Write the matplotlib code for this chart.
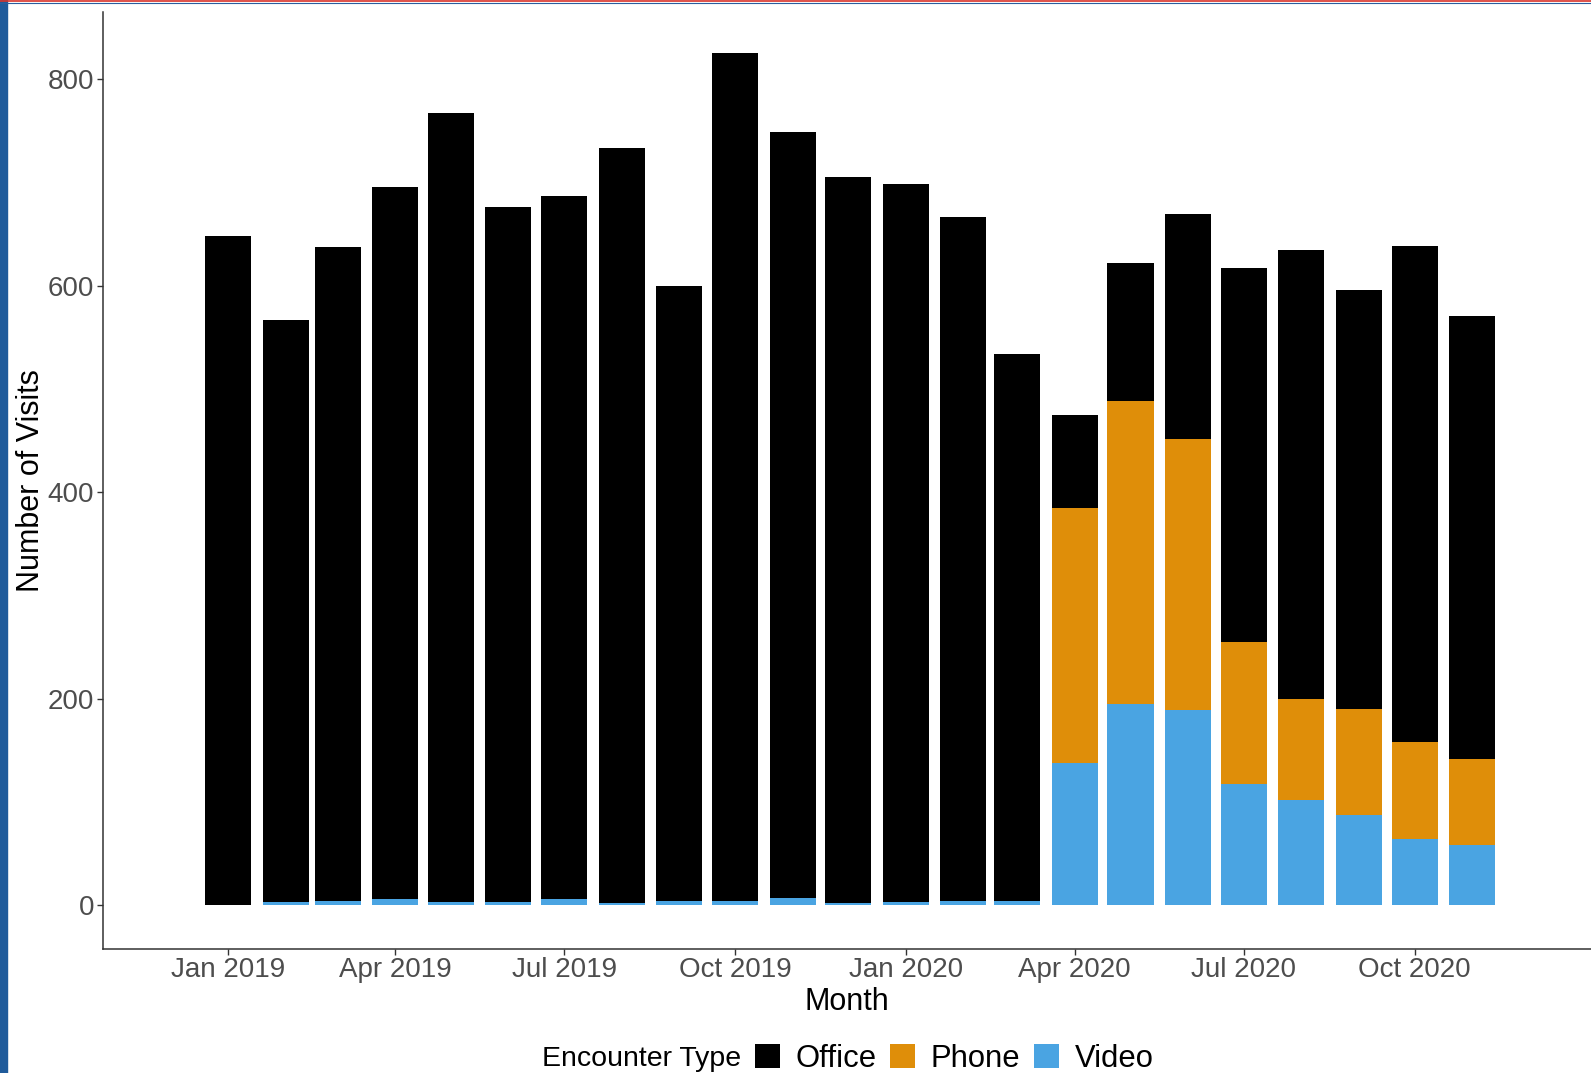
import numpy as np
import pandas as pd
import matplotlib
matplotlib.use("Agg")
import matplotlib.pyplot as plt
import matplotlib.dates as mdates
from matplotlib.patches import Patch, Rectangle
from matplotlib.lines import Line2D

plt.rcParams['font.family'] = ['Liberation Sans', 'DejaVu Sans']

# monthly visit counts, Jan 2019 - Nov 2020
months = pd.date_range("2019-01-01", "2020-11-01", freq="MS")
video = [0, 3, 4, 6, 3, 3, 6, 2, 4, 4, 7, 2, 3, 4, 4,
         138, 195, 189, 117, 102, 87, 64, 58]
phone = [0, 0, 0, 0, 0, 0, 0, 0, 0, 0, 0, 0, 0, 0, 0,
         247, 293, 262, 138, 98, 103, 94, 83]
office = [648, 564, 633, 689, 764, 673, 681, 731, 596, 821, 742, 703, 695, 662, 530,
          90, 134, 218, 362, 434, 406, 480, 429]

tick_dates = ["2019-01-01", "2019-04-01", "2019-07-01", "2019-10-01",
              "2020-01-01", "2020-04-01", "2020-07-01", "2020-10-01"]
y_ticks = [0, 200, 400, 600, 800]

col_office = "#000000"
col_phone = "#DF8E09"
col_video = "#4AA4E2"

W, H = 1591, 1073
fig = plt.figure(figsize=(W / 100, H / 100), dpi=100)
ax = fig.add_axes([102.5 / W, 1 - 949 / H, 1 - 102.5 / W, (949 - 11.7) / H])

x = mdates.date2num(months)
video = np.array(video)
phone = np.array(phone)
office = np.array(office)
bw = 24.8
ax.bar(x, video, width=bw, color=col_video, linewidth=0)
ax.bar(x, phone, width=bw, bottom=video, color=col_phone, linewidth=0)
ax.bar(x, office, width=bw, bottom=video + phone, color=col_office, linewidth=0)

x0 = mdates.date2num(pd.Timestamp("2019-01-01"))
ax.set_xlim(x0 - 125.5 / 1.857, x0 + (W - 228) / 1.857)
ax.set_ylim(-42.6, 865.2)

ax.set_xticks(mdates.date2num(pd.to_datetime(tick_dates)))
ax.xaxis.set_major_formatter(mdates.DateFormatter("%b %Y"))
ax.set_yticks(y_ticks)

for s in ["top", "right"]:
    ax.spines[s].set_visible(False)
for s in ["left", "bottom"]:
    ax.spines[s].set_color("#333333")
    ax.spines[s].set_linewidth(1.1)

ax.tick_params(axis="both", colors="#333333", length=4, width=1.0,
               labelsize=20, labelcolor="#4D4D4D")
ax.tick_params(axis="x", pad=2)
ax.tick_params(axis="y", pad=2)

ax.set_xlabel("Month", fontsize=22, color="black")
ax.xaxis.set_label_coords(0.5, -(1002 - 949) / (949 - 11.7))
ax.xaxis.label.set_va("center")
ax.set_ylabel("Number of Visits", fontsize=22, color="black")
ax.yaxis.set_label_coords((31 - 102.5) / (W - 102.5), 0.5)
ax.yaxis.label.set_va("center")

# legend at bottom
ly = 1 - 1059 / H
fig.text(741 / W, ly, "Encounter Type", fontsize=20.5, ha="right", va="center")
handles = [Patch(facecolor=col_office), Patch(facecolor=col_phone), Patch(facecolor=col_video)]
fig.legend(handles, ["Office", "Phone", "Video"], ncol=3, frameon=False,
           loc="center left", bbox_to_anchor=(755 / W, ly),
           fontsize=22.3, handlelength=0.8, handleheight=0.8,
           handletextpad=0.5, columnspacing=0.45, borderaxespad=0, borderpad=0)

# screenshot frame bits
fig.add_artist(Rectangle((0, 0), 7 / W, 1, transform=fig.transFigure,
                         color="#1F5B9B", zorder=10))
fig.add_artist(Line2D([0, 1], [1 - 0.8 / H, 1 - 0.8 / H], transform=fig.transFigure,
                      color="#D9342B", linewidth=1.2, zorder=10))
fig.add_artist(Line2D([0, 1], [1 - 3.2 / H, 1 - 3.2 / H], transform=fig.transFigure,
                      color="#2A5E9E", linewidth=0.8, zorder=10))

fig.savefig("out.png", dpi=100)
